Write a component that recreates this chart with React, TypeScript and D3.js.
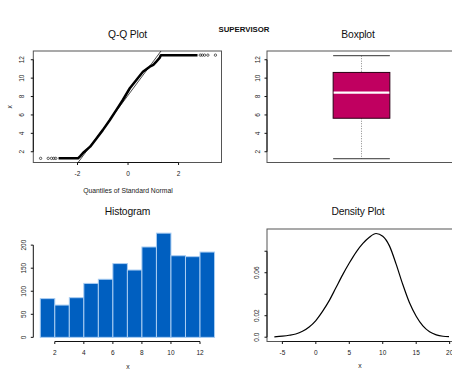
import React from "react";
import * as d3 from "d3";

// ---------- data ----------
const mainTitle = "SUPERVISOR";

// Q-Q plot: sample quantiles vs theoretical quantiles
const qqTheo = [-2.75, -1.98, -1.9, -1.75, -1.5, -1.25, -1.0, -0.72, -0.46, -0.2, 0.07, 0.33, 0.59, 0.86, 1.0, 1.12, 1.25, 1.3, 2.75];
const qqSample = [1.28, 1.28, 1.5, 1.95, 2.55, 3.45, 4.35, 5.45, 6.55, 7.65, 8.9, 9.8, 10.7, 11.25, 11.45, 11.8, 12.2, 12.5, 12.5];
const qqLeftTail = [-3.46, -3.16, -3.03, -2.94, -2.86];
const qqRightTail = [2.86, 2.94, 3.03, 3.16, 3.46];
const qqTailLow = 1.28;
const qqTailHigh = 12.5;
const qqXTicks = [-2, 0, 2];
const valueTicks = [2, 4, 6, 8, 10, 12];

// Boxplot five-number summary
const boxStatValues = [1.24, 5.64, 8.43, 10.62, 12.44]; // min, q1, median, q3, max

// Histogram
const histBreaks = [1, 2, 3, 4, 5, 6, 7, 8, 9, 10, 11, 12, 13];
const histCounts = [84, 70, 86, 117, 126, 160, 146, 196, 226, 177, 175, 185];
const histXTicks = [2, 4, 6, 8, 10, 12];
const histYTicks = [0, 50, 100, 150, 200];

// Density
const densX = [-6.2, -5, -4, -3, -2, -1, 0, 1, 2, 3, 4, 5, 6, 7, 8, 9, 10, 11, 12, 13, 14, 15, 16, 17, 18, 19, 19.9];
const densY = [0.0003, 0.001, 0.0018, 0.003, 0.0055, 0.0095, 0.0155, 0.024, 0.034, 0.046, 0.058, 0.069, 0.079, 0.087, 0.093, 0.0965, 0.094, 0.085, 0.068, 0.049, 0.032, 0.0195, 0.0105, 0.005, 0.0022, 0.0009, 0.0005];
const densXTicks = [-5, 0, 5, 10, 15, 20];
const densYTicks = [0, 0.02, 0.04, 0.06, 0.08];
const densYLabels = ["0.0", "0.02", "", "0.06", ""];

// ---------- layout ----------
const W = 452, H = 369;
const L1 = 33.3, R1 = 221.5, L2 = 267, R2 = 456;
const T1 = 51, B1 = 162.5, T2 = 229, B2 = 341.5;
const FONT = "'Liberation Sans', Arial, Helvetica, sans-serif";
const TICK = 2.5;

type Sc = d3.ScaleLinear<number, number>;

function YAxis({ x, scale, ticks, labels, off = 10 }: { x: number; scale: Sc; ticks: number[]; labels?: string[]; off?: number }) {
  const y0 = scale(ticks[0]), y1 = scale(ticks[ticks.length - 1]);
  return (
    <g>
      <line x1={x} x2={x} y1={y0} y2={y1} stroke="#111" strokeWidth={1} />
      {ticks.map((t, i) => (
        <g key={i}>
          <line x1={x - TICK} x2={x} y1={scale(t)} y2={scale(t)} stroke="#111" />
          <text
            transform={`translate(${x - off + 2.3},${scale(t)}) rotate(-90)`}
            textAnchor="middle"
            fontSize={6.5}
            fontFamily={FONT}
            fill="#222"
          >
            {labels ? labels[i] : String(t)}
          </text>
        </g>
      ))}
    </g>
  );
}

function XAxis({ y, scale, ticks, labels }: { y: number; scale: Sc; ticks: number[]; labels?: string[] }) {
  const x0 = scale(ticks[0]), x1 = scale(ticks[ticks.length - 1]);
  return (
    <g>
      <line x1={x0} x2={x1} y1={y} y2={y} stroke="#111" strokeWidth={1} />
      {ticks.map((t, i) => (
        <g key={i}>
          <line x1={scale(t)} x2={scale(t)} y1={y} y2={y + TICK} stroke="#111" />
          <text x={scale(t)} y={y + 13.5} textAnchor="middle" fontSize={6.5} fontFamily={FONT} fill="#222">
            {labels ? labels[i] : String(t)}
          </text>
        </g>
      ))}
    </g>
  );
}

function Title({ x, y, text }: { x: number; y: number; text: string }) {
  return (
    <text x={x} y={y} textAnchor="middle" fontSize={10.3} fontFamily={FONT} fill="#111" letterSpacing={-0.15}>
      {text}
    </text>
  );
}

export default function App() {
  // Q-Q
  const qx = d3.scaleLinear().domain([-3.75, 3.7]).range([L1, R1]);
  const vy = d3.scaleLinear().domain([0.83, 12.95]).range([B1, T1]);
  const qqPath = d3.line<number>().x((_, i) => qx(qqTheo[i])).y((d) => vy(d))(qqSample) || "";
  const [bMin, bQ1, bMed, bQ3, bMax] = boxStatValues;
  const slope = (bQ3 - bQ1) / (2 * 0.6745);
  const icpt = (bQ1 + bQ3) / 2;
  const qqLineX0 = (vy.domain()[0] - icpt) / slope;
  const qqLineX1 = (vy.domain()[1] - icpt) / slope;

  // Boxplot
  const bx = d3.scaleLinear().domain([0.5, 1.5]).range([L2, R2]);
  const boxHalf = 0.15;

  // Histogram
  const hx = d3.scaleLinear().domain([0.52, 13.48]).range([L1, R1]);
  const hy = d3.scaleLinear().domain([-9, 235]).range([B2, T2]);

  // Density
  const dx = d3.scaleLinear().domain([-7.3, 20.95]).range([L2, R2]);
  const dy = d3.scaleLinear().domain([-0.004, 0.1007]).range([B2, T2]);
  const densPath = d3.line<number>().x((_, i) => dx(densX[i])).y((d) => dy(d)).curve(d3.curveMonotoneX)(densY) || "";

  return (
    <svg width={W} height={H} style={{ position: "fixed", left: 0, top: 0, background: "#fff" }}>
      <rect x={0} y={0} width={W} height={H} fill="#fff" />
      <text x={244} y={32} textAnchor="middle" fontSize={7.8} fontWeight="bold" fontFamily={FONT} fill="#111">
        {mainTitle}
      </text>

      {/* ---- Q-Q plot ---- */}
      <Title x={127.5} y={38.3} text="Q-Q Plot" />
      <rect x={L1} y={T1} width={R1 - L1} height={B1 - T1} fill="none" stroke="#555" />
      <defs>
        <clipPath id="qqclip">
          <rect x={L1} y={T1} width={R1 - L1} height={B1 - T1} />
        </clipPath>
      </defs>
      <g clipPath="url(#qqclip)">
        <line x1={qx(qqLineX0)} y1={vy(vy.domain()[0])} x2={qx(qqLineX1)} y2={vy(vy.domain()[1])} stroke="#000" strokeWidth={0.7} />
      </g>
      <path d={qqPath} fill="none" stroke="#000" strokeWidth={2.5} strokeLinejoin="round" />
      {qqLeftTail.map((q, i) => (
        <circle key={"l" + i} cx={qx(q)} cy={vy(qqTailLow)} r={1.2} fill="none" stroke="#000" strokeWidth={0.6} />
      ))}
      {qqRightTail.map((q, i) => (
        <circle key={"r" + i} cx={qx(q)} cy={vy(qqTailHigh)} r={1.2} fill="none" stroke="#000" strokeWidth={0.6} />
      ))}
      <YAxis x={L1} scale={vy} ticks={valueTicks} off={11.5} />
      <XAxis y={B1} scale={qx} ticks={qqXTicks} />
      <text x={128} y={192.5} textAnchor="middle" fontSize={6.8} fontFamily={FONT} fill="#222">
        Quantiles of Standard Normal
      </text>
      <text transform={`translate(12.3,${(T1 + B1) / 2}) rotate(-90)`} textAnchor="middle" fontSize={6.8} fontFamily={FONT} fill="#222">
        x
      </text>

      {/* ---- Boxplot ---- */}
      <Title x={358} y={38.3} text="Boxplot" />
      <rect x={L2} y={T1} width={R2 - L2} height={B1 - T1} fill="none" stroke="#555" />
      <line x1={bx(1)} x2={bx(1)} y1={vy(bMax)} y2={vy(bQ3)} stroke="#888" strokeDasharray="1 1.5" />
      <line x1={bx(1)} x2={bx(1)} y1={vy(bQ1)} y2={vy(bMin)} stroke="#888" strokeDasharray="1 1.5" />
      <line x1={bx(1 - boxHalf)} x2={bx(1 + boxHalf)} y1={vy(bMax)} y2={vy(bMax)} stroke="#333" />
      <line x1={bx(1 - boxHalf)} x2={bx(1 + boxHalf)} y1={vy(bMin)} y2={vy(bMin)} stroke="#333" />
      <rect x={bx(1 - boxHalf)} y={vy(bQ3)} width={bx(1 + boxHalf) - bx(1 - boxHalf)} height={vy(bQ1) - vy(bQ3)} fill="#C00060" stroke="#2a0014" strokeWidth={1} />
      <line x1={bx(1 - boxHalf) + 0.5} x2={bx(1 + boxHalf) - 0.5} y1={vy(bMed)} y2={vy(bMed)} stroke="#fff" strokeWidth={2.2} />
      <YAxis x={L2} scale={vy} ticks={valueTicks} off={9.7} />

      {/* ---- Histogram ---- */}
      <Title x={127.5} y={214.5} text="Histogram" />
      {histCounts.map((c, i) => (
        <rect
          key={i}
          x={hx(histBreaks[i])}
          y={hy(c)}
          width={hx(histBreaks[i + 1]) - hx(histBreaks[i])}
          height={hy(0) - hy(c)}
          fill="#005FC0"
          stroke="#a9cdf2"
          strokeWidth={1}
        />
      ))}
      <YAxis x={L1} scale={hy} ticks={histYTicks} off={10} />
      <XAxis y={B2} scale={hx} ticks={histXTicks} />
      <text x={128} y={368.5} textAnchor="middle" fontSize={6.8} fontFamily={FONT} fill="#222">
        x
      </text>

      {/* ---- Density ---- */}
      <Title x={358} y={214.5} text="Density Plot" />
      <rect x={L2} y={T2} width={R2 - L2} height={B2 - T2} fill="none" stroke="#555" />
      <path d={densPath} fill="none" stroke="#000" strokeWidth={1.2} />
      <YAxis x={L2} scale={dy} ticks={densYTicks} labels={densYLabels} off={10.2} />
      <XAxis y={B2} scale={dx} ticks={densXTicks} />
      <text x={360} y={368} textAnchor="middle" fontSize={6.8} fontFamily={FONT} fill="#222">
        x
      </text>
    </svg>
  );
}
